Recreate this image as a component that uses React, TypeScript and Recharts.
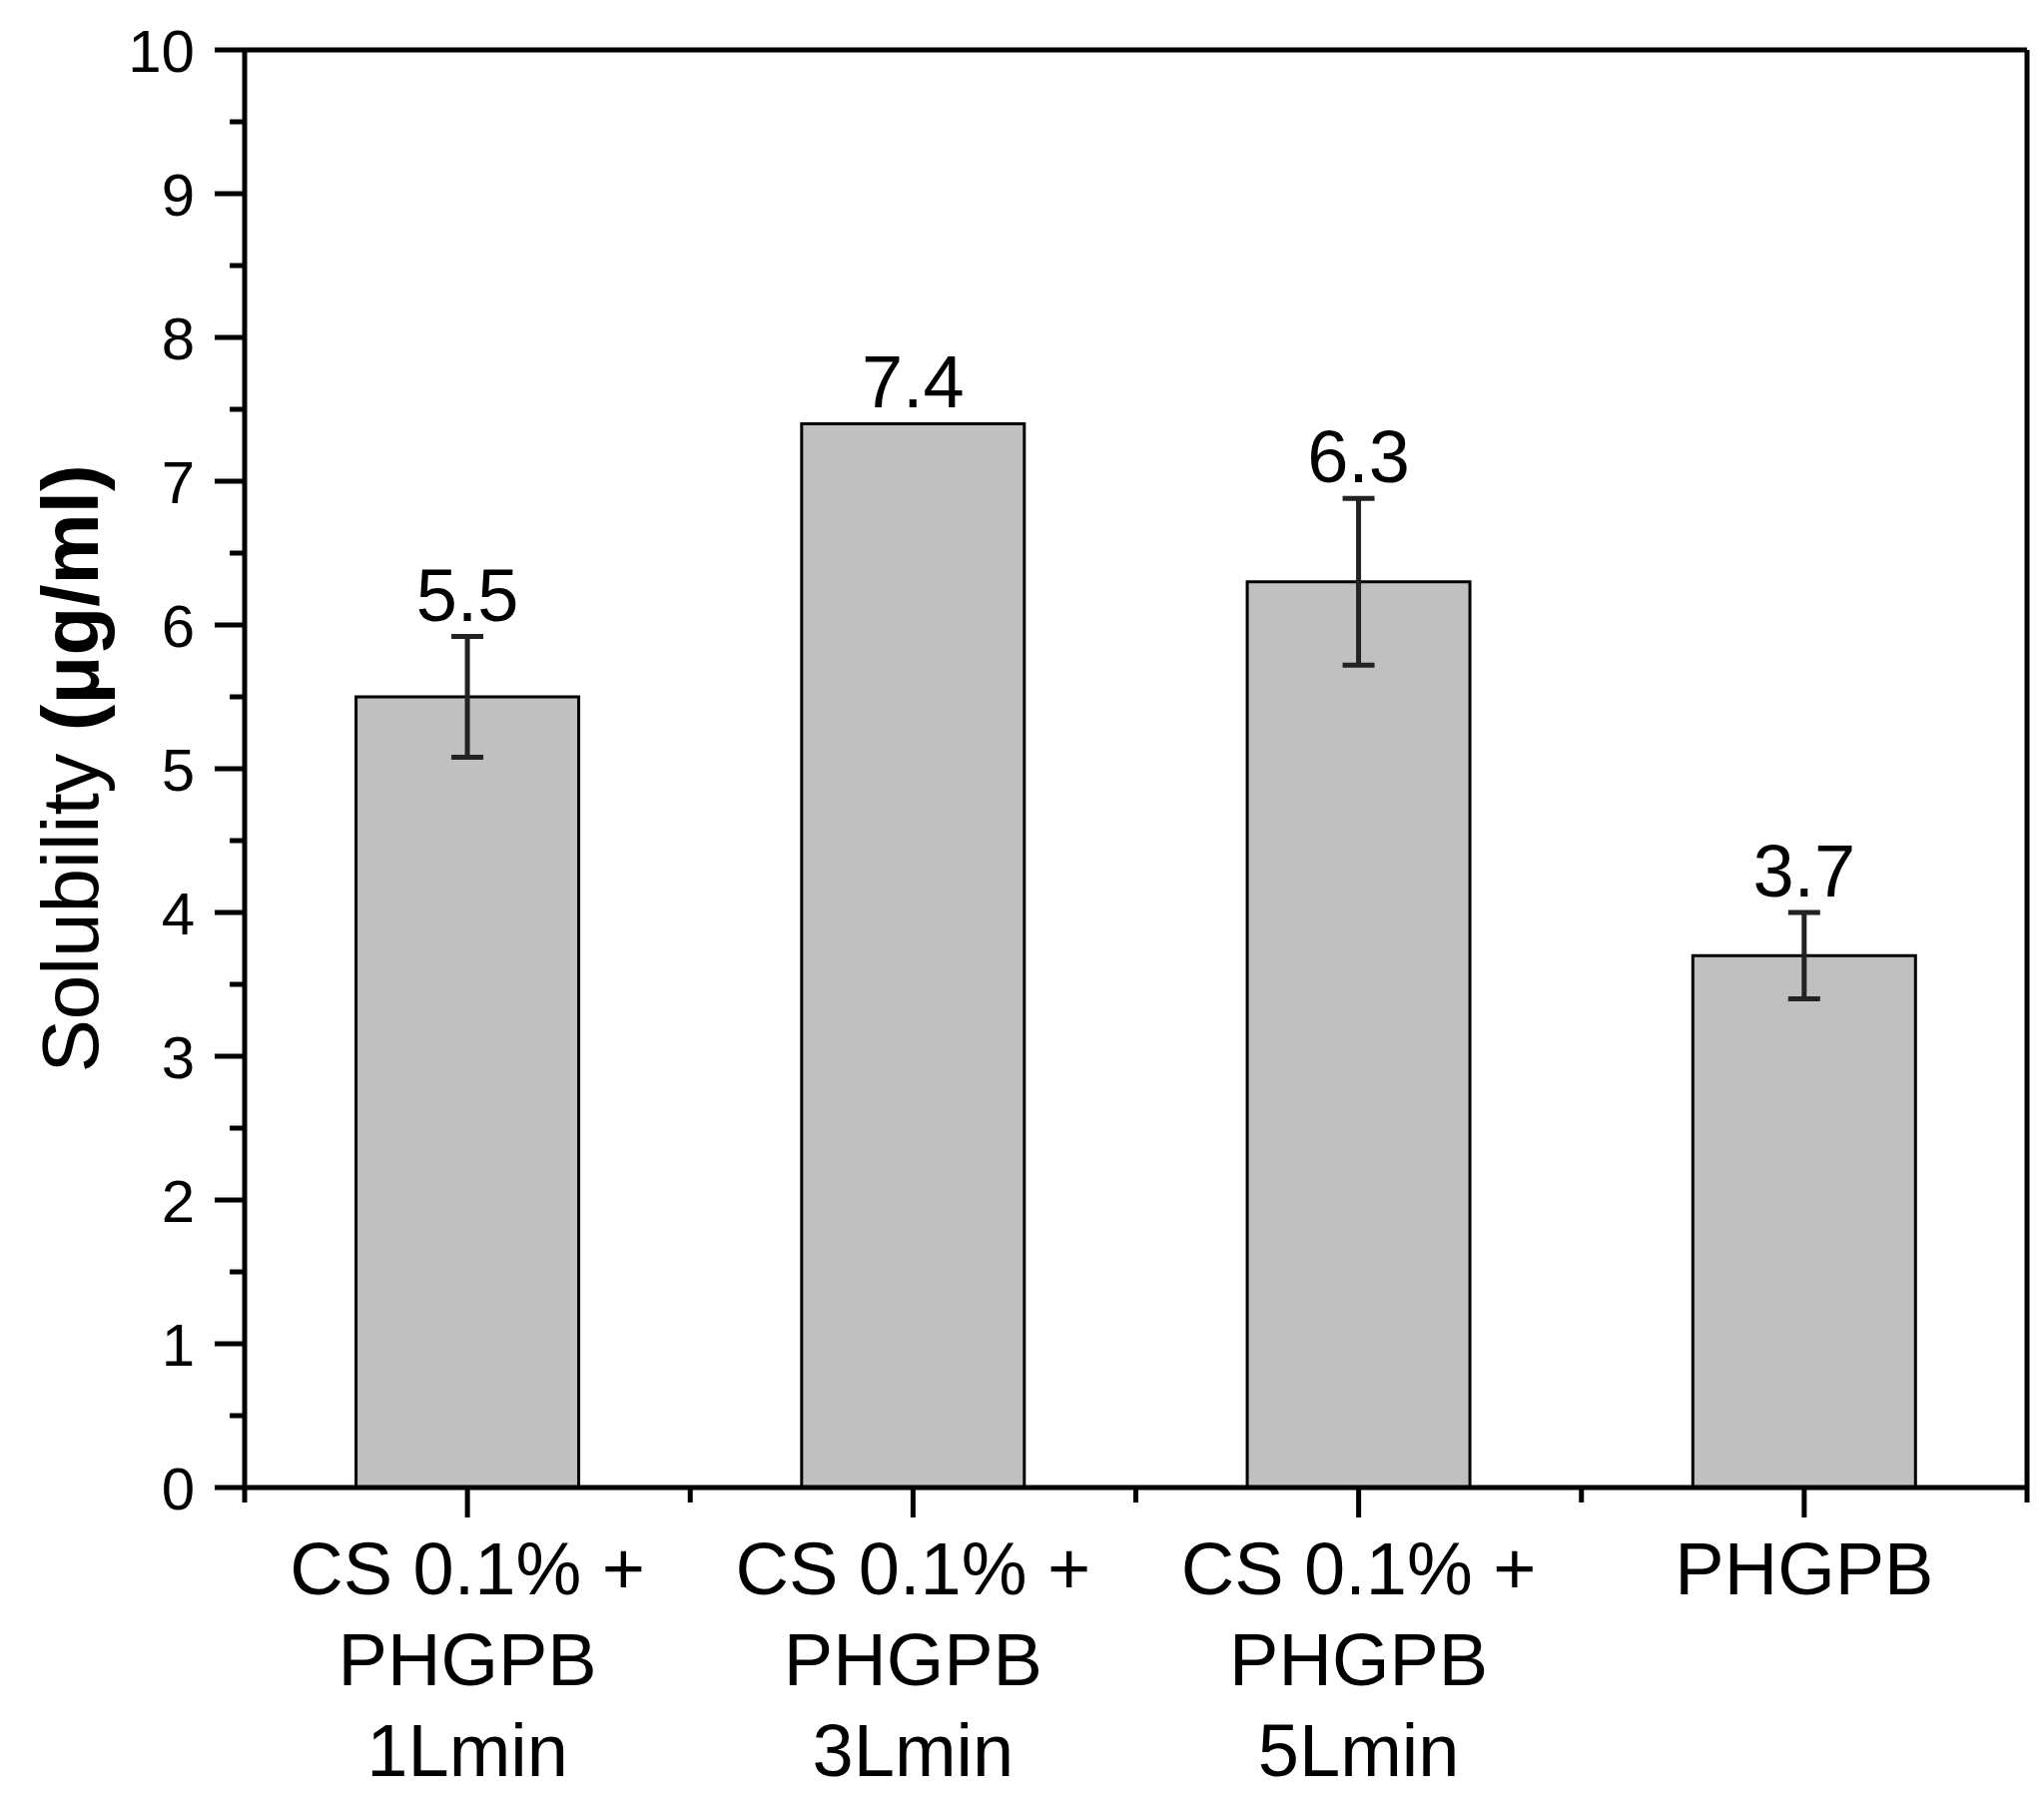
import { BarChart, Bar, XAxis, YAxis, ErrorBar, LabelList } from "recharts";

const CATEGORIES = ["CS 0.1% +\nPHGPB\n1Lmin", "CS 0.1% +\nPHGPB\n3Lmin", "CS 0.1% +\nPHGPB\n5Lmin", "PHGPB"];
const SOLUBILITY = [5.5, 7.4, 6.3, 3.7];
const ERRORS = [0.42, 0, 0.58, 0.3];
const Y_TICKS = [0, 0.5, 1, 1.5, 2, 2.5, 3, 3.5, 4, 4.5, 5, 5.5, 6, 6.5, 7, 7.5, 8, 8.5, 9, 9.5, 10];

const FONT = "'Liberation Sans', Arial, Helvetica, sans-serif";
const INK = "#000";
const AXIS_W = 5;

const data = CATEGORIES.map((name, i) => ({ name, value: SOLUBILITY[i], err: ERRORS[i] }));

function YTick(props: any) {
  const { x, y, payload } = props;
  const v = payload.value as number;
  const major = Number.isInteger(v);
  return (
    <g>
      <line x1={x} x2={x - (major ? 30 : 15)} y1={y} y2={y} stroke={INK} strokeWidth={AXIS_W} />
      {major && (
        <text x={x - 50} y={y} dy="0.36em" textAnchor="end" fontSize={60} fontFamily={FONT} fill={INK}>
          {v}
        </text>
      )}
    </g>
  );
}

function XTick(props: any) {
  const { x, y, payload, width, visibleTicksCount, index } = props;
  const half = payload.offset || width / visibleTicksCount / 2;
  const lines = String(payload.value).split("\n");
  return (
    <g>
      <line x1={x} x2={x} y1={y} y2={y + 30} stroke={INK} strokeWidth={AXIS_W} />
      <line x1={x - half} x2={x - half} y1={y} y2={y + 15} stroke={INK} strokeWidth={AXIS_W} />
      {index === visibleTicksCount - 1 && (
        <line x1={x + half} x2={x + half} y1={y} y2={y + 15} stroke={INK} strokeWidth={AXIS_W} />
      )}
      <text textAnchor="middle" fontSize={74} fontFamily={FONT} fill={INK}>
        {lines.map((l, i) => (
          <tspan key={i} x={x} y={y + 107 + i * 91}>
            {l}
          </tspan>
        ))}
      </text>
    </g>
  );
}

function YTitle(props: any) {
  const { viewBox } = props;
  const bx = viewBox.x + 53;
  const cy = viewBox.y + viewBox.height / 2;
  return (
    <text
      x={bx}
      y={cy}
      transform={`rotate(-90 ${bx} ${cy})`}
      textAnchor="middle"
      fontSize={80}
      fontFamily={FONT}
      fill={INK}
    >
      Solubility <tspan fontWeight="bold">(μg/ml)</tspan>
    </text>
  );
}

function ValueLabel(props: any) {
  const { x, y, width, height, value, index } = props;
  const err = ERRORS[index] ?? 0;
  const top = y - (value ? (err * height) / value : 0);
  return (
    <text x={x + width / 2} y={top - 16} textAnchor="middle" fontSize={74} fontFamily={FONT} fill={INK}>
      {value}
    </text>
  );
}

export default function App() {
  return (
    <div style={{ position: "absolute", left: 0, top: 0, background: "#fff" }}>
      <BarChart
        width={2047}
        height={1808}
        data={data}
        margin={{ top: 49, right: 16, bottom: 0, left: 45 }}
        barCategoryGap="25%"
      >
        <XAxis
          dataKey="name"
          height={318}
          interval={0}
          tickSize={0}
          tickMargin={0}
          tickLine={false}
          axisLine={{ stroke: INK, strokeWidth: AXIS_W }}
          tick={<XTick />}
        />
        <XAxis
          xAxisId="top"
          dataKey="name"
          orientation="top"
          height={1}
          tick={false}
          tickLine={false}
          axisLine={{ stroke: INK, strokeWidth: AXIS_W }}
        />
        <YAxis
          type="number"
          domain={[0, 10]}
          ticks={Y_TICKS}
          interval={0}
          width={200}
          tickSize={0}
          tickMargin={0}
          tickLine={false}
          axisLine={{ stroke: INK, strokeWidth: AXIS_W }}
          tick={<YTick />}
          label={<YTitle />}
        />
        <YAxis
          yAxisId="right"
          orientation="right"
          type="number"
          domain={[0, 10]}
          width={1}
          tick={false}
          tickLine={false}
          axisLine={{ stroke: INK, strokeWidth: AXIS_W }}
        />
        <Bar dataKey="value" fill="#c0c0c0" stroke={INK} strokeWidth={3} isAnimationActive={false}>
          <ErrorBar dataKey="err" direction="y" width={16} stroke="#222" strokeWidth={5} isAnimationActive={false} />
          <LabelList dataKey="value" content={<ValueLabel />} />
        </Bar>
      </BarChart>
    </div>
  );
}
